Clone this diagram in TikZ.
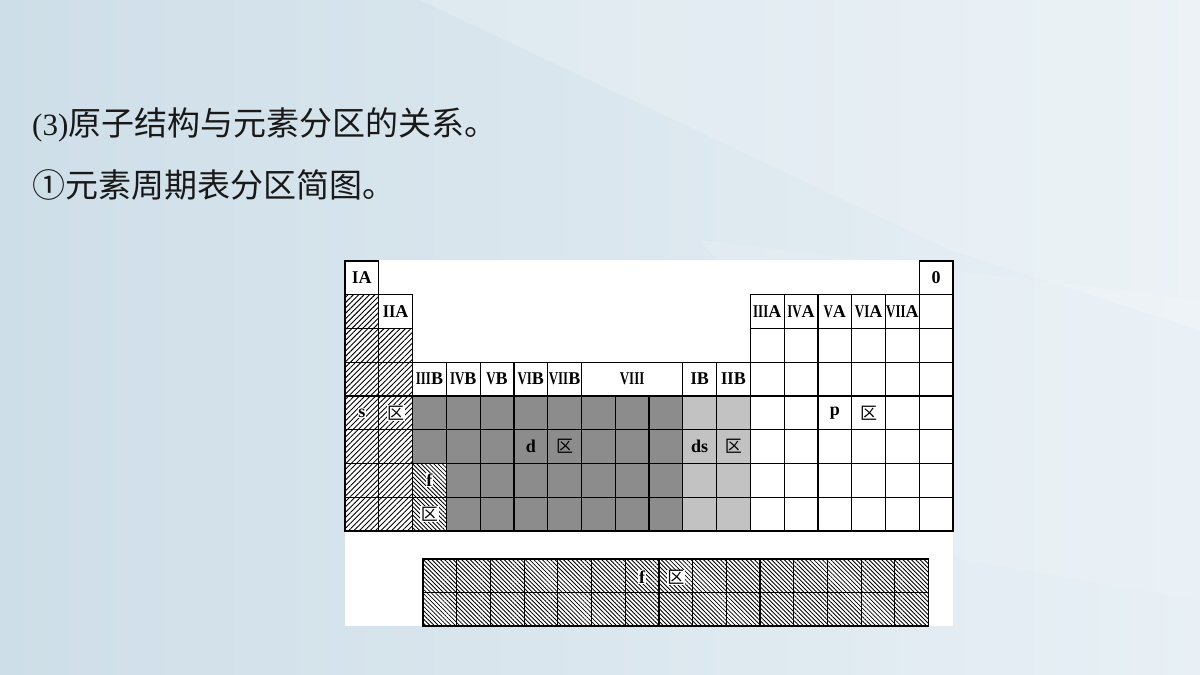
\documentclass[tikz,border=0pt]{standalone}
\usepackage{fontspec}
\setmainfont{Liberation Serif}
\newfontfamily\cjk{Noto Sans CJK SC}
\usetikzlibrary{patterns.meta}
\definecolor{bgL}{RGB}{206,222,232}
\definecolor{bgR}{RGB}{232,240,245}
\definecolor{dgray}{RGB}{140,140,140}
\definecolor{lgray}{RGB}{194,194,194}
\newcommand\rnm[1]{\scalebox{0.72}[1]{#1}}
\newcommand\rnw[1]{\scalebox{0.9}[1]{#1}}
\tikzset{
  grid/.style={draw=black,line width=1.2pt},
  hd/.style={inner sep=0pt,font=\fontsize{18}{18}\selectfont\bfseries},
  lab/.style={inner sep=0.6pt,font=\fontsize{18}{18}\selectfont\bfseries},
  labw/.style={lab,fill=white},
  qu/.style={inner sep=0.6pt,font=\cjk\fontsize{17}{17}\selectfont},
  quw/.style={qu,fill=white},
  shatch/.style={pattern={Lines[angle=45,distance=3.8pt,line width=0.9pt]},pattern color=black},
  fhatch/.style={pattern={Lines[angle=-45,distance=3.0pt,line width=0.85pt]},pattern color=black},
  title/.style={anchor=west,inner sep=0pt,text=black!90}
}
\begin{document}
\begin{tikzpicture}[x=1pt,y=-1pt]
\useasboundingbox (0,0) rectangle (1200,675);
\shade[left color=bgL,right color=bgR] (0,0) rectangle (1200,675);
\fill[white,opacity=0.18] (420,0) -- (1200,0) -- (1200,330) -- (950,250) -- cycle;
\fill[white,opacity=0.12] (700,240) -- (1200,300) -- (1200,600) -- (960,560) -- cycle;
\fill[white] (345,260) rectangle (953,626);

\node[title] (t1) at (32,125) {\fontsize{31}{34}\selectfont(3)\cjk\fontsize{33}{36}\selectfont 原子结构与元素分区的关系。};
\node[title] (t2) at (32,185) {\cjk\fontsize{33}{36}\selectfont ①元素周期表分区简图。};

\begin{scope}[shift={(345,261)},x=33.78pt,y=-33.75pt]
  % fills
  \fill[shatch] (0,1) rectangle (1,8);
  \fill[shatch] (1,2) rectangle (2,8);
  \fill[dgray] (2,4) rectangle (10,6);
  \fill[dgray] (3,6) rectangle (10,8);
  \fill[lgray] (10,4) rectangle (12,8);
  \fill[fhatch] (2,6) rectangle (3,8);
  % grid
  \draw[grid] (0,0) rectangle (1,1);
  \draw[grid] (17,0) rectangle (18,1);
  \foreach \r in {1,...,7} {
    \draw[grid] (0,\r) rectangle (1,\r+1);
    \draw[grid] (1,\r) rectangle (2,\r+1);
  }
  \foreach \c in {12,...,17} \foreach \r in {1,...,7}
    \draw[grid] (\c,\r) rectangle (\c+1,\r+1);
  \foreach \c in {2,...,11} \foreach \r in {4,...,7}
    \draw[grid] (\c,\r) rectangle (\c+1,\r+1);
  \foreach \c in {2,...,6,10,11}
    \draw[grid] (\c,3) rectangle (\c+1,4);
  \draw[grid] (7,3) rectangle (10,4);
  % headers
  \node[hd] (hIA) at (0.5,0.5) {\rnw{I}A};
  \node[hd] (h0) at (17.5,0.5) {0};
  \node[hd] (hIIA) at (1.5,1.5) {\rnw{II}A};
  \node[hd] (hIIIA) at (12.5,1.5) {\rnm{III}A};
  \node[hd] (hIVA) at (13.5,1.5) {\rnm{IV}A};
  \node[hd] (hVA) at (14.5,1.5) {\rnm{V}A};
  \node[hd] (hVIA) at (15.5,1.5) {\rnm{VI}A};
  \node[hd] (hVIIA) at (16.5,1.5) {\rnm{VII}A};
  \node[hd] (hIIIB) at (2.5,3.5) {\rnm{III}B};
  \node[hd] (hIVB) at (3.5,3.5) {\rnm{IV}B};
  \node[hd] (hVB) at (4.5,3.5) {\rnm{V}B};
  \node[hd] (hVIB) at (5.5,3.5) {\rnm{VI}B};
  \node[hd] (hVIIB) at (6.5,3.5) {\rnm{VII}B};
  \node[hd] (hVIII) at (8.5,3.5) {\rnm{VIII}};
  \node[hd] (hIB) at (10.5,3.5) {\rnw{I}B};
  \node[hd] (hIIB) at (11.5,3.5) {\rnw{II}B};
  % block labels
  \node[labw] (ls) at (0.5,4.5) {s};
  \node[quw] (lsq) at (1.5,4.5) {区};
  \node[lab] (lp) at (14.5,4.5) {p};
  \node[qu] (lpq) at (15.5,4.5) {区};
  \node[lab] (ld) at (5.5,5.5) {d};
  \node[qu] (ldq) at (6.5,5.5) {区};
  \node[lab] (lds) at (10.5,5.5) {ds};
  \node[qu] (ldsq) at (11.5,5.5) {区};
  \node[labw] (lf) at (2.5,6.5) {f};
  \node[quw] (lfq) at (2.5,7.5) {区};
\end{scope}

\begin{scope}[shift={(423,559)},x=33.7pt,y=-33.5pt]
  \fill[fhatch] (0,0) rectangle (15,2);
  \foreach \c in {0,...,14} \foreach \r in {0,1}
    \draw[grid] (\c,\r) rectangle (\c+1,\r+1);
  \node[labw] (ff) at (6.5,0.55) {f};
  \node[quw] (ffq) at (7.5,0.55) {区};
\end{scope}
\end{tikzpicture}
\end{document}
